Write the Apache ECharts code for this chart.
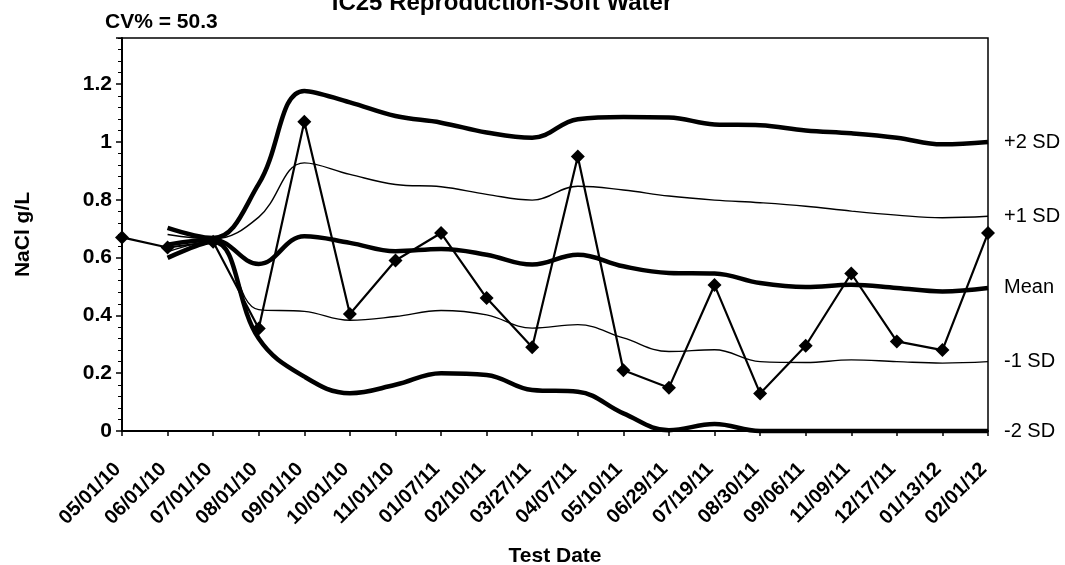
<!DOCTYPE html>
<html>
<head>
<meta charset="utf-8">
<script src="https://cdn.jsdelivr.net/npm/echarts@6/dist/echarts.min.js"></script>
<style>html,body{margin:0;padding:0;background:#fff}#c{width:1065px;height:565px}</style>
</head>
<body>
<div id="c"></div>
<script>
const categories = ['05/01/10','06/01/10','07/01/10','08/01/10','09/01/10','10/01/10','11/01/10','01/07/11','02/10/11','03/27/11','04/07/11','05/10/11','06/29/11','07/19/11','08/30/11','09/06/11','11/09/11','12/17/11','01/13/12','02/01/12'];
const nacl   = [0.67, 0.635, 0.655, 0.355, 1.07, 0.405, 0.59, 0.685, 0.46, 0.29, 0.95, 0.21, 0.15, 0.505, 0.13, 0.295, 0.545, 0.31, 0.28, 0.685];
const meanVals = ['-', 0.645, 0.662, 0.578, 0.674, 0.651, 0.622, 0.63, 0.61, 0.576, 0.61, 0.57, 0.547, 0.545, 0.512, 0.498, 0.506, 0.495, 0.483, 0.495];
const plus1  = ['-', 0.68, 0.665, 0.74, 0.928, 0.888, 0.853, 0.845, 0.819, 0.799, 0.847, 0.834, 0.813, 0.799, 0.79, 0.778, 0.761, 0.747, 0.738, 0.743];
const plus2  = ['-', 0.703, 0.668, 0.855, 1.177, 1.137, 1.09, 1.067, 1.033, 1.015, 1.079, 1.087, 1.085, 1.061, 1.058, 1.04, 1.03, 1.015, 0.992, 1.0];
const minus1 = ['-', 0.62, 0.658, 0.42, 0.414, 0.383, 0.396, 0.417, 0.402, 0.356, 0.368, 0.322, 0.275, 0.281, 0.24, 0.237, 0.246, 0.24, 0.235, 0.24];
const minus2 = ['-', 0.599, 0.655, 0.32, 0.188, 0.131, 0.16, 0.2, 0.194, 0.142, 0.136, 0.061, 0.003, 0.024, 0, 0, 0, 0, 0, 0];
const titleText = 'IC25 Reproduction-Soft Water';
const cvText = 'CV% = 50.3';

const FONT = 'Liberation Sans, Arial, sans-serif';
const chart = echarts.init(document.getElementById('c'), null, {renderer:'canvas'});

function statSeries(name, data, width) {
  return {
    name: name, type: 'line', data: data, smooth: 0.4, symbol: 'none',
    lineStyle: {color: '#000', width: width}, clip: false, z: 3,
    endLabel: {show: true, formatter: name, color: '#000', fontSize: 20, fontFamily: FONT, distance: 16}
  };
}

chart.setOption({
  animation: false,
  backgroundColor: '#fff',
  grid: {left: 122, right: 77, top: 38, bottom: 134, show: true, borderColor: '#000', borderWidth: 1.5,
         containLabel: false, outerBoundsMode: 'none'},
  graphic: [
    {type: 'text', x: 502, y: -9, style: {text: titleText, font: 'bold 24px ' + FONT, fill: '#000', align: 'center', verticalAlign: 'top'}},
    {type: 'text', x: 105, y: 12, style: {text: cvText, font: 'bold 21px ' + FONT, fill: '#000', align: 'left', verticalAlign: 'top'}}
  ],
  xAxis: {
    type: 'category', data: categories, boundaryGap: false,
    axisLine: {lineStyle: {color: '#000', width: 2}},
    axisTick: {show: true, length: 5, interval: 0, lineStyle: {color: '#000', width: 1.5}},
    axisLabel: {rotate: 45, interval: 0, color: '#000', fontFamily: FONT, fontWeight: 'bold', fontSize: 20, margin: 31, padding: [0, 6, 0, 0]},
    splitLine: {show: false},
    name: 'Test Date', nameLocation: 'middle', nameGap: 115,
    nameTextStyle: {color: '#000', fontFamily: FONT, fontWeight: 'bold', fontSize: 21}
  },
  yAxis: {
    type: 'value', min: 0, max: 1.36, interval: 0.2,
    axisLine: {show: true, lineStyle: {color: '#000', width: 2}},
    axisTick: {show: true, length: 6, lineStyle: {color: '#000', width: 1.5}},
    minorTick: {show: true, splitNumber: 5, length: 4, lineStyle: {color: '#000', width: 1}},
    splitLine: {show: false},
    axisLabel: {showMaxLabel: false, color: '#000', fontFamily: FONT, fontWeight: 'bold', fontSize: 21, margin: 10},
    name: 'NaCl g/L', nameLocation: 'middle', nameGap: 88,
    nameTextStyle: {color: '#000', fontFamily: FONT, fontWeight: 'bold', fontSize: 21}
  },
  series: [
    statSeries('+2 SD', plus2, 4.5),
    statSeries('+1 SD', plus1, 1.4),
    statSeries('Mean', meanVals, 4.5),
    statSeries('-1 SD', minus1, 1.4),
    statSeries('-2 SD', minus2, 4.5),
    {
      name: 'NaCl', type: 'line', data: nacl, smooth: false, symbol: 'diamond', symbolSize: 14,
      lineStyle: {color: '#000', width: 2.2}, itemStyle: {color: '#000'}, z: 5, clip: false
    }
  ]
});
</script>
</body>
</html>
